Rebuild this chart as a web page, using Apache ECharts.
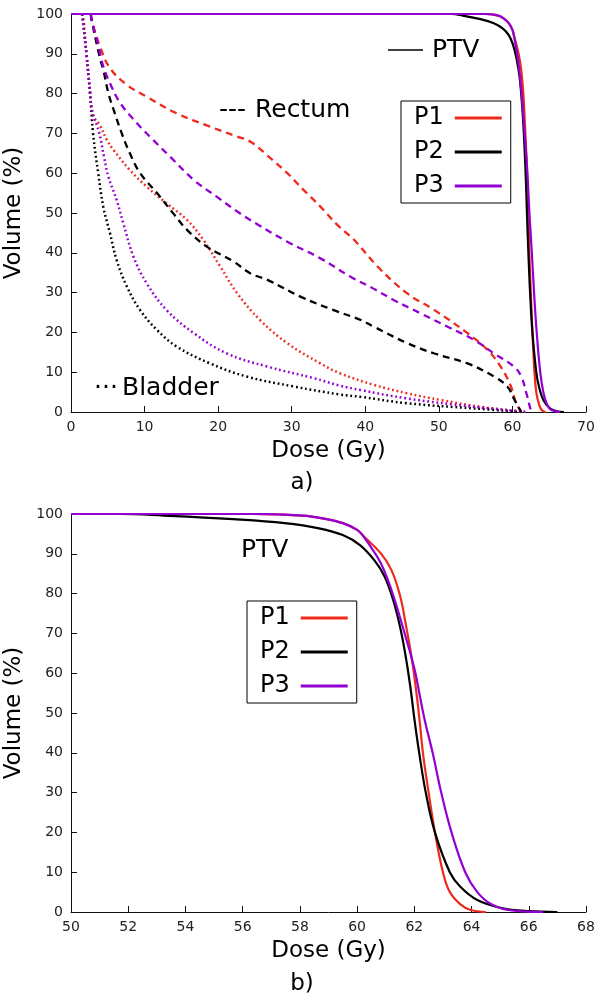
<!DOCTYPE html>
<html><head><meta charset="utf-8">
<script src="https://cdn.jsdelivr.net/npm/echarts@6/dist/echarts.min.js"></script>
<style>html,body{margin:0;padding:0;background:#fff}#c{width:600px;height:996px}</style>
</head><body><div id="c"></div>
<script>
// ---- data: [dose (Gy), volume (%)] ----
const ptvP1 = [[0,100],[50,100],[56.4,100],[58.1,99.6],[58.8,98.9],[59.5,97.7],[60.0,96],[60.23,94.4],[60.83,90.1],[61.2,85.9],[61.5,79.5],[61.7,72.3],[61.92,63.3],[62.1,53.5],[62.2,47],[62.3,40],[62.5,30],[62.72,20],[63.0,10],[63.24,5],[63.6,2],[63.97,0.5],[64.5,0]];
const ptvP2 = [[0,100],[50,100],[51.7,100],[53.25,99.6],[55.66,98.7],[57.47,97.7],[58.67,96.4],[59.5,94.7],[60.1,92.2],[60.6,88.4],[60.96,84.3],[61.26,78.4],[61.5,71.7],[61.68,65],[61.86,56.6],[62.02,47.5],[62.17,40],[62.4,30],[62.72,20],[63.24,10],[63.6,6.4],[64.2,3],[65.05,1],[66.0,0.2],[67.0,0]];
const ptvP3 = [[0,100],[50,100],[56.4,100],[58.1,99.6],[58.8,98.9],[59.5,97.7],[60.0,96],[60.23,94.3],[60.47,91.8],[60.83,87.6],[61.2,80.9],[61.56,72.5],[61.86,65],[62.04,60],[62.2,54],[62.37,48],[62.64,40],[62.94,30],[63.3,20],[63.78,10],[64.2,5],[64.68,2],[65.29,0.5],[66.5,0]];

const rectumP1 = [[2.7,100],[2.8,98.5],[3.95,91.8],[5.3,86.4],[7.6,82.2],[10.3,79.2],[14.4,75],[18.9,71.7],[22.6,69.2],[24.4,67.9],[26.6,64.6],[29.4,60],[31.6,55.8],[33.9,51.6],[36.2,47],[38.5,43.2],[41.7,36.5],[45.7,29.8],[49.4,25.6],[53.9,19.8],[56.6,15.6],[58.4,11.4],[59.8,6.4],[60.5,2.2],[61.2,0]];
const rectumP2 = [[2.7,100],[2.8,98.5],[3.95,88.8],[4.4,85.9],[5.1,80],[5.8,75.9],[6.9,70],[8,65],[9.4,60],[11.7,55],[13.9,49.9],[15.8,45.7],[18.5,41.5],[22.1,37.8],[24.4,34.8],[26.7,33.2],[31.4,28.8],[35.7,25.6],[39.4,23.1],[41.2,21.4],[45.7,17.3],[49.4,14.7],[53.9,12.2],[57.5,8.9],[59.3,6.4],[60.3,3],[61.2,0]];
const rectumP3 = [[2.7,100],[2.8,98.5],[3.7,92.2],[4.4,86.8],[5.3,82.6],[6.7,77.6],[9,72.5],[11.2,68.3],[13.5,64.1],[16.7,58.3],[19.8,54.1],[22.5,50.5],[25.1,47.4],[29.4,42.8],[33.9,38.6],[38,34],[41.4,30.7],[43.9,28.1],[47.5,24.8],[51.2,21.4],[54.8,18.1],[57.5,14.7],[60.2,11.4],[61.2,8.9],[61.9,4.7],[62.5,0.5],[62.7,0]];

const bladderP1 = [[1.5,100],[1.7,98.5],[2.1,90],[2.6,80],[3.0,74.6],[3.9,72.1],[4.9,68.3],[5.8,65.8],[8,60.8],[10.3,56.6],[13,52.4],[15.8,48.2],[18,43.2],[20.3,36.5],[22.6,29.8],[25.7,23.1],[29.4,17.3],[33.9,12.2],[36.6,9.7],[41.2,6.8],[45.7,4.7],[50.3,3],[55.7,1.3],[60.3,0.3],[61.5,0]];
const bladderP2 = [[1.5,100],[1.6,98.5],[2.1,90],[2.6,80],[3.0,70],[3.7,60],[4.4,51.5],[5.3,44.9],[6.2,38.2],[7.6,31.5],[9.4,25.6],[11.7,20.6],[14.4,16.4],[18.9,12.2],[23.9,8.9],[30.3,6.4],[36.6,4.4],[39.4,3.8],[45.7,2.2],[54.8,0.9],[61.2,0]];
const bladderP3 = [[1.5,100],[1.6,98.5],[2.1,90],[2.6,80],[2.9,75.5],[3.85,70],[4.5,64],[5.1,59],[6.2,53.3],[7.1,47.5],[8.5,39],[10.3,32.3],[13,25.6],[16.7,19.8],[21.2,14.7],[26.7,11.4],[33,8.5],[36.6,6.6],[39.4,5.5],[45.7,3.4],[54.8,1.3],[62.1,0]];

const names = ['P1','P2','P3'];
const colors = ['#ee2a1c','#000000','#9400d3'];
const topTicks = {min:0, max:70, interval:10};
const botTicks = {min:50, max:68, interval:2};
const volTicks = {min:0, max:100, interval:10};

const FONT = 'DejaVu Sans';
const ptv = [ptvP1, ptvP2, ptvP3];
const rectum = [rectumP1, rectumP2, rectumP3];
const bladder = [bladderP1, bladderP2, bladderP3];

function xAx(grid, t) {
  return {type:'value', gridIndex:grid, min:t.min, max:t.max, interval:t.interval,
    name:'Dose (Gy)', nameLocation:'middle', nameGap:28,
    nameTextStyle:{fontSize:23, color:'#000', fontFamily:FONT},
    axisLine:{onZero:false, lineStyle:{color:'#111', width:1}},
    axisTick:{inside:true, length:6, lineStyle:{color:'#111'}},
    axisLabel:{fontSize:14, color:'#222', fontFamily:FONT, margin:8},
    splitLine:{show:false}};
}
function yAx(grid) {
  return {type:'value', gridIndex:grid, min:volTicks.min, max:volTicks.max, interval:volTicks.interval,
    name:'Volume (%)', nameLocation:'middle', nameGap:38, nameRotate:90,
    nameTextStyle:{fontSize:23, color:'#000', fontFamily:FONT},
    axisLine:{show:true, onZero:false, lineStyle:{color:'#111', width:1}},
    axisTick:{show:true, inside:true, length:6, lineStyle:{color:'#111'}},
    axisLabel:{fontSize:14, color:'#222', fontFamily:FONT, margin:8},
    splitLine:{show:false}};
}
function ln(name, data, i, grid, type, w) {
  return {type:'line', name:name, data:data, xAxisIndex:grid, yAxisIndex:grid,
    symbol:'none', showSymbol:false, smooth:0.4, animation:false,
    color:colors[i],
    lineStyle:{color:colors[i], width:w||2.2, type:type}};
}

const series = [];
for (let i=0;i<3;i++) series.push(ln(names[i]+' Bladder', bladder[i], i, 0, [1.8,2.8], 2.5));
for (let i=0;i<3;i++) series.push(ln(names[i]+' Rectum', rectum[i], i, 0, [7,5], 2.3));
for (let i=0;i<3;i++) series.push(ln(names[i], ptv[i], i, 0, 'solid'));
for (let i=0;i<3;i++) series.push(ln(names[i], ptv[i].filter(p=>p[0]>=50), i, 1, 'solid'));

function legend(left, top) {
  return {data:names, left:left, top:top, orient:'vertical', align:'right',
    icon:'rect', itemWidth:47, itemHeight:3, itemGap:10, padding:[5,9,5,13],
    borderColor:'#000', borderWidth:1, selectedMode:false,
    textStyle:{fontSize:24, color:'#000', fontFamily:FONT, lineHeight:24, padding:[0,6,0,0]}};
}
function txt(x, y, s, size) {
  return {type:'text', x:x, y:y, style:{text:s, font:(size||25)+'px "DejaVu Sans"', fill:'#000', align:'left', verticalAlign:'middle'}};
}

const chart = echarts.init(document.getElementById('c'), null, {renderer:'canvas'});
chart.setOption({
  backgroundColor:'#fff',
  animation:false,
  grid:[{left:71, right:14, top:14, height:398, outerBoundsMode:'none', containLabel:false},
        {left:71, right:14, top:514, height:398, outerBoundsMode:'none', containLabel:false}],
  xAxis:[xAx(0, topTicks), xAx(1, botTicks)],
  yAxis:[yAx(0), yAx(1)],
  legend:[legend(401, 101), legend(247, 601)],
  series:series,
  graphic:[
    {type:'line', shape:{x1:388, y1:50, x2:423, y2:50}, style:{stroke:'#000', lineWidth:1.5}},
    txt(432, 50, 'PTV'),
    txt(219, 110, '---'),
    txt(255, 110, 'Rectum'),
    txt(94, 388, '···'),
    txt(122, 388, 'Bladder'),
    {type:'text', x:302, y:483, style:{text:'a)', font:'23px "DejaVu Sans"', fill:'#000', align:'center', verticalAlign:'middle'}},
    txt(241, 550, 'PTV'),
    {type:'text', x:302, y:984, style:{text:'b)', font:'23px "DejaVu Sans"', fill:'#000', align:'center', verticalAlign:'middle'}}
  ]
});
</script></body></html>
